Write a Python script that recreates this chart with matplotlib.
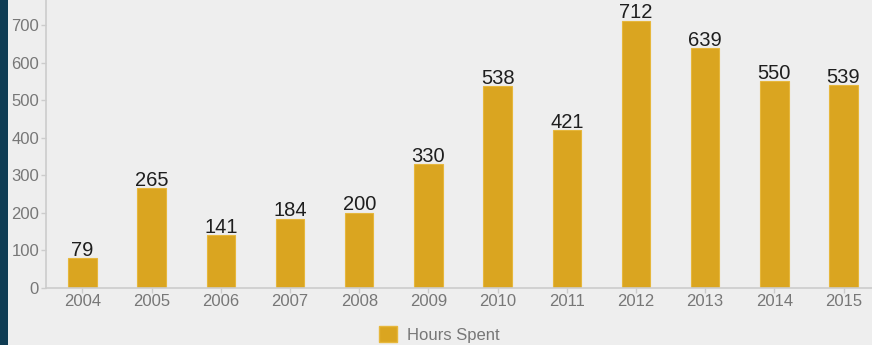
import matplotlib
matplotlib.use("Agg")
import matplotlib.pyplot as plt
from matplotlib.patches import Rectangle, Patch

# Data
years = ["2004", "2005", "2006", "2007", "2008", "2009",
         "2010", "2011", "2012", "2013", "2014", "2015"]
hours = [79, 265, 141, 184, 200, 330, 538, 421, 712, 639, 550, 539]
y_ticks = [0, 100, 200, 300, 400, 500, 600, 700]

bar_color = "#DAA520"
bg = "#eeeeee"
grey = "#777777"

plt.rcParams["font.family"] = ["Liberation Sans", "DejaVu Sans"]

W, H = 872, 345
fig = plt.figure(figsize=(W / 100, H / 100), dpi=100, facecolor=bg)

# dark strip on the left edge
fig.patches.append(Rectangle((0, 0), 8 / W, 1, transform=fig.transFigure,
                             facecolor="#0f3c53", edgecolor="none", zorder=0))

# axes in pixel terms: left 46, bottom 57.5, extends past the right edge
ax = fig.add_axes([46 / W, 57.5 / H, 834 / W, 287.5 / H])
ax.set_facecolor(bg)

x = list(range(len(years)))
bars = ax.bar(x, hours, width=0.41, color=bar_color, edgecolor="#e6b73c",
              linewidth=0.8, label="Hours Spent")

for xi, v in zip(x, hours):
    ax.annotate(str(v), (xi, v), xytext=(0, 1.5), textcoords="offset points",
                ha="center", va="baseline", fontsize=14.5, color="#1e1e1e")

ax.set_xlim(-0.527, 11.527)
ax.set_ylim(0, 766.7)
ax.set_xticks(x)
ax.set_xticklabels(years)
ax.set_yticks(y_ticks)

for s in ["top", "right"]:
    ax.spines[s].set_visible(False)
for s in ["left", "bottom"]:
    ax.spines[s].set_color("#cccccc")
    ax.spines[s].set_linewidth(1.2)

ax.tick_params(axis="both", colors="#cccccc", labelcolor=grey, labelsize=12,
               length=3.5, width=1)
ax.tick_params(axis="y", pad=1.5)
ax.tick_params(axis="x", pad=1.5)

fig.legend(handles=[Patch(facecolor=bar_color, edgecolor="#e6b73c", label="Hours Spent")],
           loc="upper left", bbox_to_anchor=(379 / W, 1 - 326 / H),
           frameon=False, fontsize=12, labelcolor=grey, borderpad=0,
           borderaxespad=0, handlelength=1.08, handleheight=1.08,
           handletextpad=0.6)

fig.savefig("out.png", dpi=100, facecolor=bg)
